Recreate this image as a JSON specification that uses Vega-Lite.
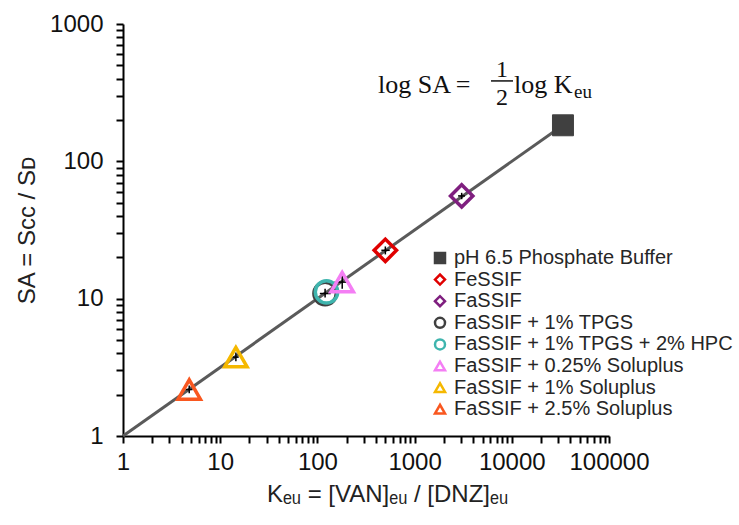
{
  "$schema": "https://vega.github.io/schema/vega-lite/v6.json",
  "width": 486,
  "height": 412,
  "autosize": "none",
  "padding": {"left": 123, "top": 24, "right": 130, "bottom": 89},
  "background": "white",
  "config": {
    "view": {"stroke": null},
    "font": "Liberation Sans",
    "axis": {"ticks": true, "tickSize": 7, "tickColor": "#000", "tickWidth": 2, "tickOpacity": 1, "domainColor": "#000", "domainWidth": 2, "grid": false}
  },
  "datasets": {
    "points": [
      {"series": "pH 6.5 Phosphate Buffer", "K": 33600, "SA": 183},
      {"series": "FeSSIF", "K": 500, "SA": 22.5},
      {"series": "FaSSIF", "K": 3050, "SA": 56},
      {"series": "FaSSIF + 1% TPGS", "K": 120, "SA": 10.9},
      {"series": "FaSSIF + 1% TPGS + 2% HPC", "K": 124, "SA": 11.2},
      {"series": "FaSSIF + 0.25% Soluplus", "K": 180, "SA": 13.2},
      {"series": "FaSSIF + 1% Soluplus", "K": 14.5, "SA": 3.75},
      {"series": "FaSSIF + 2.5% Soluplus", "K": 4.8, "SA": 2.18}
    ],
    "fit": [{"K": 1, "SA": 1}, {"K": 33600, "SA": 183.3}],
    "err": [
      {"K": 500, "Klo": 455, "Khi": 555, "SA": 22.5, "SAlo": 21, "SAhi": 24},
      {"K": 3050, "Klo": 2800, "Khi": 3300, "SA": 56, "SAlo": 53, "SAhi": 59},
      {"K": 120, "Klo": 106, "Khi": 137, "SA": 10.9, "SAlo": 10.2, "SAhi": 11.8},
      {"K": 180, "Klo": 150, "Khi": 210, "SA": 13.2, "SAlo": 11.8, "SAhi": 15.5},
      {"K": 14.5, "Klo": 13.5, "Khi": 15.5, "SA": 3.75, "SAlo": 3.5, "SAhi": 4.05},
      {"K": 4.8, "Klo": 4.4, "Khi": 5.2, "SA": 2.18, "SAlo": 2.05, "SAhi": 2.33}
    ],
    "one": [{}]
  },
  "layer": [
    {
      "data": {"name": "fit"},
      "mark": {"type": "line", "color": "#5a5a5a", "strokeWidth": 3},
      "encoding": {
        "x": {
          "field": "K", "type": "quantitative",
          "scale": {"type": "log", "domain": [1, 100000], "nice": false},
          "axis": {
            "title": "Kₑᵤ = [VAN]ₑᵤ / [DNZ]ₑᵤ",
            "values": [1,2,3,4,5,6,7,8,9,10,20,30,40,50,60,70,80,90,100,200,300,400,500,600,700,800,900,1000,2000,3000,4000,5000,6000,7000,8000,9000,10000,20000,30000,40000,50000,60000,70000,80000,90000,100000],
            "format": "d",
            "labelExpr": "indexof(['1','10','100','1000','10000','100000'], datum.label) >= 0 ? datum.label : ''",
            "labelOverlap": false, "labelFlush": false, "labelBound": false,
            "labelFontSize": 24, "labelColor": "#111", "labelFont": "Liberation Sans", "labelPadding": 7,
            "titleFontSize": 24, "titleFont": "Liberation Sans", "titleFontWeight": "normal", "titleColor": "#222",
            "titlePadding": 8, "titleX": 264,
            "ticks": true, "tickSize": 7, "tickColor": "#000", "tickWidth": 2,
            "domainColor": "#000", "domainWidth": 2
          }
        },
        "y": {
          "field": "SA", "type": "quantitative",
          "scale": {"type": "log", "domain": [1, 1000], "nice": false},
          "axis": {
            "title": "SA = Sᴄᴄ / Sᴅ",
            "values": [1,2,3,4,5,6,7,8,9,10,20,30,40,50,60,70,80,90,100,200,300,400,500,600,700,800,900,1000],
            "format": "d",
            "labelExpr": "indexof(['1','10','100','1000'], datum.label) >= 0 ? datum.label : ''",
            "labelOverlap": false, "labelFlush": false, "labelBound": false,
            "labelFontSize": 24, "labelColor": "#111", "labelFont": "Liberation Sans", "labelPadding": 13,
            "titleFontSize": 24, "titleFont": "Liberation Sans", "titleFontWeight": "normal", "titleColor": "#222",
            "titlePadding": 10,
            "ticks": true, "tickSize": 7, "tickColor": "#000", "tickWidth": 2,
            "domainColor": "#000", "domainWidth": 2
          }
        }
      }
    },
    {
      "data": {"name": "err"},
      "mark": {"type": "rule", "color": "#000", "strokeWidth": 1.5},
      "encoding": {
        "x": {"field": "Klo", "type": "quantitative"},
        "x2": {"field": "Khi"},
        "y": {"field": "SA", "type": "quantitative"}
      }
    },
    {
      "data": {"name": "err"},
      "mark": {"type": "rule", "color": "#000", "strokeWidth": 1.5},
      "encoding": {
        "x": {"field": "K", "type": "quantitative"},
        "y": {"field": "SAlo", "type": "quantitative"},
        "y2": {"field": "SAhi"}
      }
    },
    {
      "data": {"name": "points"},
      "transform": [{"filter": "datum.series !== 'pH 6.5 Phosphate Buffer'"}],
      "mark": {"type": "point", "filled": true, "size": 500, "strokeWidth": 3.5, "opacity": 1},
      "encoding": {
        "x": {"field": "K", "type": "quantitative"},
        "y": {"field": "SA", "type": "quantitative"},
        "stroke": {
          "field": "series", "type": "nominal",
          "scale": {
            "domain": ["pH 6.5 Phosphate Buffer", "FeSSIF", "FaSSIF", "FaSSIF + 1% TPGS", "FaSSIF + 1% TPGS + 2% HPC", "FaSSIF + 0.25% Soluplus", "FaSSIF + 1% Soluplus", "FaSSIF + 2.5% Soluplus"],
            "range": ["#404040", "#e00000", "#7f1f7f", "#404040", "#3fb5ae", "#f47ef4", "#f5b800", "#f9571f"]
          },
          "legend": {"title": null, "orient": "none", "legendX": 307, "legendY": 224, "padding": 0, "labelFontSize": 20, "labelFont": "Liberation Sans", "labelColor": "#262626", "symbolSize": 100, "symbolStrokeWidth": 2.5, "symbolOpacity": 1, "rowPadding": 1.6, "labelOffset": 4, "labelLimit": 400}
        },
        "fill": {
          "field": "series", "type": "nominal",
          "scale": {
            "domain": ["pH 6.5 Phosphate Buffer", "FeSSIF", "FaSSIF", "FaSSIF + 1% TPGS", "FaSSIF + 1% TPGS + 2% HPC", "FaSSIF + 0.25% Soluplus", "FaSSIF + 1% Soluplus", "FaSSIF + 2.5% Soluplus"],
            "range": ["#404040", "transparent", "transparent", "transparent", "transparent", "transparent", "transparent", "transparent"]
          },
          "legend": {"title": null, "orient": "none", "legendX": 307, "legendY": 224, "padding": 0, "labelFontSize": 20, "labelFont": "Liberation Sans", "labelColor": "#262626", "symbolSize": 100, "symbolStrokeWidth": 2.5, "symbolOpacity": 1, "rowPadding": 1.6, "labelOffset": 4, "labelLimit": 400}
        },
        "shape": {
          "field": "series", "type": "nominal",
          "scale": {
            "domain": ["pH 6.5 Phosphate Buffer", "FeSSIF", "FaSSIF", "FaSSIF + 1% TPGS", "FaSSIF + 1% TPGS + 2% HPC", "FaSSIF + 0.25% Soluplus", "FaSSIF + 1% Soluplus", "FaSSIF + 2.5% Soluplus"],
            "range": ["square", "diamond", "diamond", "circle", "circle", "triangle-up", "triangle-up", "triangle-up"]
          },
          "legend": {"title": null, "orient": "none", "legendX": 307, "legendY": 224, "padding": 0, "labelFontSize": 20, "labelFont": "Liberation Sans", "labelColor": "#262626", "symbolSize": 100, "symbolStrokeWidth": 2.5, "symbolOpacity": 1, "rowPadding": 1.6, "labelOffset": 4, "labelLimit": 400}
        }
      }
    },
    {
      "data": {"name": "points"},
      "transform": [{"filter": "datum.series === 'pH 6.5 Phosphate Buffer'"}],
      "mark": {"type": "point", "filled": true, "size": 440, "strokeWidth": 1, "opacity": 1},
      "encoding": {
        "x": {"field": "K", "type": "quantitative"},
        "y": {"field": "SA", "type": "quantitative"},
        "stroke": {"field": "series", "type": "nominal"},
        "fill": {"field": "series", "type": "nominal"},
        "shape": {"field": "series", "type": "nominal"}
      }
    },
    {
      "data": {"name": "one"},
      "mark": {"type": "text", "font": "Liberation Serif", "fontSize": 26, "align": "left", "baseline": "alphabetic", "color": "#111"},
      "encoding": {
        "x": {"datum": 420, "type": "quantitative"},
        "y": {"datum": 315, "type": "quantitative"},
        "text": {"value": "log SA"}
      }
    },
    {
      "data": {"name": "one"},
      "mark": {"type": "text", "font": "Liberation Serif", "fontSize": 26, "align": "center", "baseline": "alphabetic", "color": "#111"},
      "encoding": {
        "x": {"datum": 3150, "type": "quantitative"},
        "y": {"datum": 315, "type": "quantitative"},
        "text": {"value": "="}
      }
    },
    {
      "data": {"name": "one"},
      "mark": {"type": "text", "font": "Liberation Serif", "fontSize": 24, "align": "center", "baseline": "alphabetic", "color": "#111"},
      "encoding": {
        "x": {"datum": 7930, "type": "quantitative"},
        "y": {"datum": 412, "type": "quantitative"},
        "text": {"value": "1"}
      }
    },
    {
      "data": {"name": "one"},
      "mark": {"type": "text", "font": "Liberation Serif", "fontSize": 24, "align": "center", "baseline": "alphabetic", "color": "#111"},
      "encoding": {
        "x": {"datum": 7930, "type": "quantitative"},
        "y": {"datum": 258, "type": "quantitative"},
        "text": {"value": "2"}
      }
    },
    {
      "data": {"name": "one"},
      "mark": {"type": "rule", "color": "#111", "strokeWidth": 1.5},
      "encoding": {
        "x": {"datum": 6110, "type": "quantitative"},
        "x2": {"datum": 10290},
        "y": {"datum": 385, "type": "quantitative"}
      }
    },
    {
      "data": {"name": "one"},
      "mark": {"type": "text", "font": "Liberation Serif", "fontSize": 26, "align": "left", "baseline": "alphabetic", "color": "#111"},
      "encoding": {
        "x": {"datum": 10540, "type": "quantitative"},
        "y": {"datum": 315, "type": "quantitative"},
        "text": {"value": "log K"}
      }
    },
    {
      "data": {"name": "one"},
      "mark": {"type": "text", "font": "Liberation Serif", "fontSize": 19, "align": "left", "baseline": "alphabetic", "color": "#111"},
      "encoding": {
        "x": {"datum": 43650, "type": "quantitative"},
        "y": {"datum": 290, "type": "quantitative"},
        "text": {"value": "eu"}
      }
    }
  ]
}
